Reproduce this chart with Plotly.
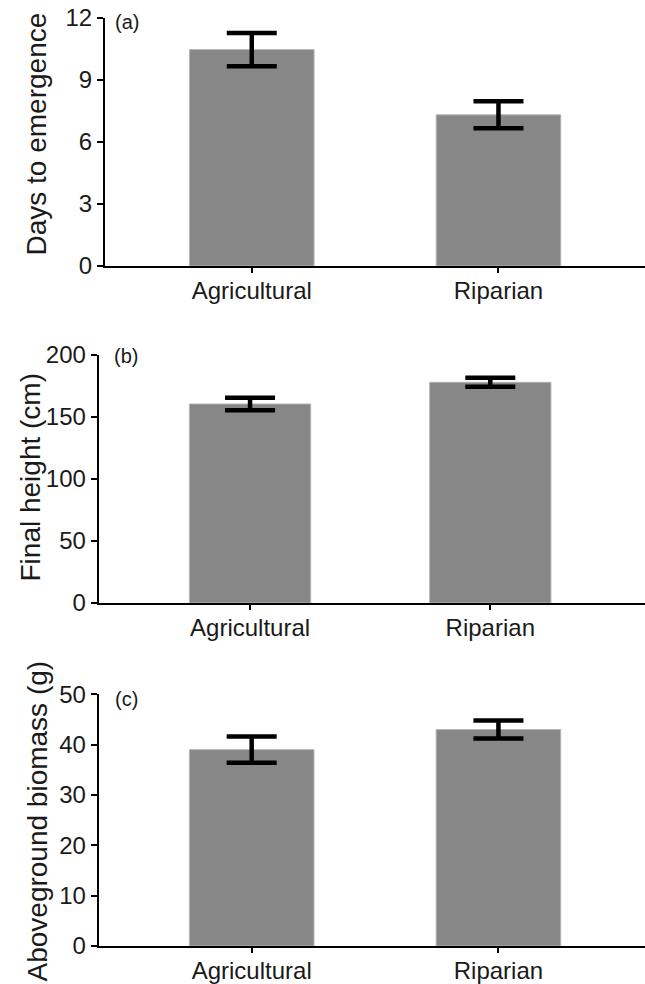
import plotly.graph_objects as go

categories = ["Agricultural", "Riparian"]
days_mean = [10.45, 7.3]
days_se = [0.8, 0.65]
height_mean = [160.5, 178.0]
height_se = [5.0, 3.7]
biomass_mean = [39.0, 43.0]
biomass_se = [2.6, 1.8]

panel_titles = ["Days to emergence", "Final height (cm)", "Aboveground biomass (g)"]
panel_letters = ["(a)", "(b)", "(c)"]
y_ticks = [[0, 3, 6, 9, 12], [0, 50, 100, 150, 200], [0, 10, 20, 30, 40, 50]]
y_max = [12, 200, 50]

W, H = 645, 984
FONT = "Liberation Sans, Arial, sans-serif"
TXT = "#1a1a1a"
BAR = "#878787"

# pixel layout (left axis x, top y, bottom y, x range)
geo = [
    dict(left=105, top=17.5, bottom=266, xr=[-0.595, 1.594], tx=35.5, ty=134, lx=113, ly=22),
    dict(left=98.7, top=355, bottom=603, xr=[-0.63, 1.644], tx=30, ty=477.5, lx=112, ly=355.5),
    dict(left=98.7, top=694.3, bottom=946, xr=[-0.62, 1.594], tx=37, ty=821.5, lx=113, ly=698.5),
]

series = [(days_mean, days_se), (height_mean, height_se), (biomass_mean, biomass_se)]

fig = go.Figure()
annotations = []
for i, ((m, e), g) in enumerate(zip(series, geo)):
    n = "" if i == 0 else str(i + 1)
    fig.add_trace(go.Bar(
        x=categories, y=m,
        xaxis="x" + n, yaxis="y" + n,
        width=0.505,
        marker=dict(color=BAR, line=dict(color="#b5b5b5", width=1)),
        error_y=dict(type="data", array=e, visible=True, color="black", thickness=4.5, width=25),
        showlegend=False,
    ))
    ax = dict(
        domain=[g["left"] / W, 1.0],
        range=g["xr"],
        type="category",
        showline=True, linecolor="black", linewidth=2,
        ticks="outside", ticklen=5, tickwidth=2, tickcolor="black",
        ticklabelstandoff=-3,
        tickfont=dict(family=FONT, size=24, color=TXT),
        showgrid=False, zeroline=False, automargin=False,
        anchor="y" + n, fixedrange=True,
    )
    ay = dict(
        domain=[1 - g["bottom"] / H, 1 - g["top"] / H],
        range=[0, y_max[i]],
        tickvals=y_ticks[i],
        showline=True, linecolor="black", linewidth=2,
        ticks="outside", ticklen=6, tickwidth=2, tickcolor="black",
        tickfont=dict(family=FONT, size=24, color=TXT),
        showgrid=False, zeroline=False, automargin=False,
        anchor="x" + n, fixedrange=True,
    )
    fig.layout["xaxis" + n] = ax
    fig.layout["yaxis" + n] = ay
    annotations.append(dict(
        text=panel_titles[i], textangle=-90,
        x=g["tx"] / W, y=1 - g["ty"] / H, xref="paper", yref="paper",
        xanchor="center", yanchor="middle", showarrow=False,
        font=dict(family=FONT, size=28, color=TXT),
    ))
    annotations.append(dict(
        text=panel_letters[i],
        x=g["lx"] / W, y=1 - g["ly"] / H, xref="paper", yref="paper",
        xanchor="left", yanchor="middle", showarrow=False,
        font=dict(family=FONT, size=20, color=TXT),
    ))

fig.update_layout(
    width=W, height=H,
    margin=dict(l=0, r=0, t=0, b=0),
    paper_bgcolor="white", plot_bgcolor="white",
    template="none",
    annotations=annotations,
    bargap=0.5,
)

fig.write_html(
    "out.html",
    include_plotlyjs=True,
    config={"displayModeBar": False},
    post_script="document.body.style.margin='0';document.body.style.overflow='hidden';",
)
